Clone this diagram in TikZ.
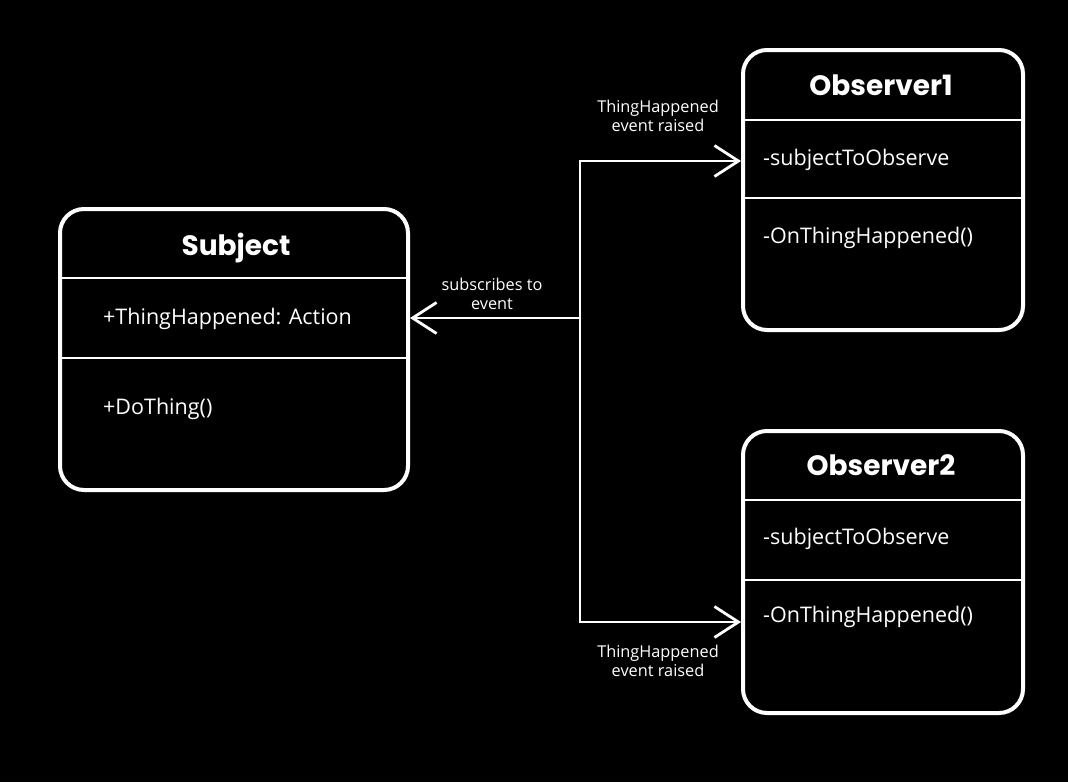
\documentclass[tikz,border=0pt]{standalone}
\usepackage{fontspec}
\setmainfont{Open Sans}
\newfontfamily\titlefont{Poppins}
\usetikzlibrary{arrows.meta}
\tikzset{
  umlbox/.style={draw=white, line width=4pt, rounded corners=24pt, rectangle, fill=black, inner sep=0pt},
  divider/.style={draw=white, line width=2pt},
  title/.style={text=white, font=\titlefont\bfseries\fontsize{28}{32}\selectfont, anchor=base, inner sep=0pt},
  member/.style={text=white, font=\fontsize{21.5}{26}\selectfont, anchor=base west, inner sep=0pt},
  lbl/.style={text=white, font=\fontsize{16.3}{19}\selectfont, align=center, inner sep=0pt},
  conn/.style={draw=white, line width=2.8pt},
  tip/.style={-{Straight Barb[length=24pt, width=31pt, line width=2.8pt]}}
}
\begin{document}
\begin{tikzpicture}[x=1pt,y=-1pt]
\fill[black] (0,0) rectangle (1068,782);
\useasboundingbox (0,0) rectangle (1068,782);

% boxes
\node[umlbox, minimum width=348pt, minimum height=281pt, anchor=north west] (subject) at (58,207) {};
\node[umlbox, minimum width=280pt, minimum height=280pt, anchor=north west] (obs1) at (741,48) {};
\node[umlbox, minimum width=280pt, minimum height=282pt, anchor=north west] (obs2) at (741,429) {};

% dividers
\draw[divider] (subject.west |- 0,278) -- (subject.east |- 0,278);
\draw[divider] (subject.west |- 0,358) -- (subject.east |- 0,358);
\draw[divider] (obs1.west |- 0,120) -- (obs1.east |- 0,120);
\draw[divider] (obs1.west |- 0,198) -- (obs1.east |- 0,198);
\draw[divider] (obs2.west |- 0,500) -- (obs2.east |- 0,500);
\draw[divider] (obs2.west |- 0,580) -- (obs2.east |- 0,580);

% titles
\node[title] (tsub) at (236,255) {Subject};
\node[title] (tobs1) at (881,95) {Observer1};
\node[title] (tobs2) at (881,475) {Observer2};

% members
\node[member] (m1) at (103,324) {+ThingHappened: Action};
\node[member] (m2) at (103,414) {+DoThing()};
\node[member] (m3) at (763,165) {-subjectToObserve};
\node[member] (m4) at (763,243) {-OnThingHappened()};
\node[member] (m5) at (763,544) {-subjectToObserve};
\node[member] (m6) at (763,622) {-OnThingHappened()};

% connectors
\coordinate (junc) at (580,318);
\coordinate (top) at (580,161);
\coordinate (bot) at (580,622);
\draw[conn, tip] (junc) -- (subject.east |- junc);
\draw[conn, tip] (junc) -- (top) -- (obs1.west |- top);
\draw[conn, tip] (junc) -- (bot) -- (obs2.west |- bot);

% labels
\node[lbl] (l1) at (658,116) {ThingHappened\\event raised};
\node[lbl] (l2) at (492,294) {subscribes to\\event};
\node[lbl] (l3) at (658,661) {ThingHappened\\event raised};
\end{tikzpicture}
\end{document}
